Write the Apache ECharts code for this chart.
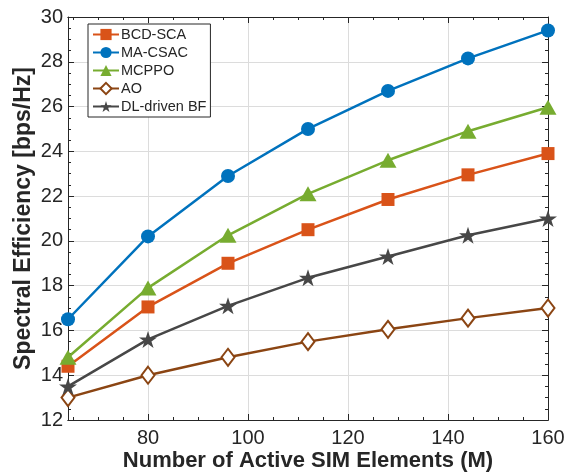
<!DOCTYPE html>
<html>
<head>
<meta charset="utf-8">
<script src="https://cdn.jsdelivr.net/npm/echarts@6/dist/echarts.min.js"></script>
<style>html,body{margin:0;padding:0;background:#fff;}#c{width:569px;height:473px;}</style>
</head>
<body>
<div id="c"></div>
<script>
var M = [64, 80, 96, 112, 128, 144, 160];
var bcdSca = [14.4, 17.05, 19.0, 20.5, 21.85, 22.95, 23.9];
var maCsac = [16.5, 20.2, 22.9, 25.0, 26.7, 28.15, 29.4];
var mcppo = [14.8, 17.9, 20.25, 22.1, 23.6, 24.9, 25.97];
var ao = [13.0, 14.0, 14.8, 15.5, 16.05, 16.55, 17.0];
var dlBf = [13.5, 15.6, 17.1, 18.35, 19.3, 20.25, 21.0];
var xMajor = [80, 100, 120, 140, 160];
var xMinor = [65, 70, 75, 85, 90, 95, 105, 110, 115, 125, 130, 135, 145, 150, 155];

var star = 'path://M50,0 L61.2,34.5 L97.6,34.5 L68.2,55.9 L79.4,90.5 L50,69.1 L20.6,90.5 L31.8,55.9 L2.4,34.5 L38.8,34.5 Z';
function pts(arr){ return M.map(function(m,i){ return [m, arr[i]]; }); }
var frame = '#262626';
var font = 'Liberation Sans, Arial, Helvetica, sans-serif';

function xAx(pos, major, labels, grid) {
  return {
    type: 'value', position: pos, min: 64, max: 160,
    axisLine: { show: true, onZero: false, lineStyle: { color: frame, width: 1 } },
    axisTick: { show: true, inside: true, length: major ? 6 : 3, customValues: major ? xMajor : xMinor, lineStyle: { color: frame } },
    axisLabel: { show: labels, customValues: xMajor, fontSize: 20, color: frame, fontFamily: font, margin: 8 },
    splitLine: { show: grid, lineStyle: { color: '#dcdcdc', width: 1 } },
    minorTick: { show: false }
  };
}

var chart = echarts.init(document.getElementById('c'));
var common = { type: 'line', lineStyle: { width: 2.5 }, showSymbol: true, z: 5 };
chart.setOption({
  animation: false,
  backgroundColor: '#fff',
  grid: { left: 68, right: 21, top: 17, bottom: 53, containLabel: false, outerBoundsMode: 'none' },
  legend: {
    orient: 'vertical', left: 88, top: 24,
    backgroundColor: '#fff', borderColor: frame, borderWidth: 1,
    padding: [3, 4, 3, 4], itemGap: 3, itemWidth: 26, itemHeight: 14,
    textStyle: { fontSize: 14.5, color: frame, fontFamily: font, padding: [0, 0, 0, -3] },
    data: ['BCD-SCA', 'MA-CSAC', 'MCPPO', 'AO', 'DL-driven BF']
  },
  xAxis: [
    Object.assign(xAx('bottom', true, true, true), {
      name: 'Number of Active SIM Elements (M)', nameLocation: 'middle', nameGap: 30, nameMoveOverlap: false,
      nameTextStyle: { fontSize: 22, fontWeight: 'bold', color: frame, fontFamily: font }
    }),
    xAx('bottom', false, false, false),
    xAx('top', true, false, false),
    xAx('top', false, false, false)
  ],
  yAxis: [
    {
      type: 'value', position: 'left', min: 12, max: 30, interval: 2,
      name: 'Spectral Efficiency [bps/Hz]', nameLocation: 'middle', nameGap: 33, nameMoveOverlap: false,
      nameTextStyle: { fontSize: 23, fontWeight: 'bold', color: frame, fontFamily: font },
      axisLine: { show: true, lineStyle: { color: frame } },
      axisTick: { show: true, inside: true, length: 6, lineStyle: { color: frame } },
      minorTick: { show: true, splitNumber: 4, length: 3, lineStyle: { color: frame } },
      axisLabel: { fontSize: 20, color: frame, fontFamily: font, margin: 5 },
      splitLine: { show: true, lineStyle: { color: '#dcdcdc', width: 1 } }
    },
    {
      type: 'value', position: 'right', min: 12, max: 30, interval: 2,
      axisLine: { show: true, lineStyle: { color: frame } },
      axisTick: { show: true, inside: true, length: 6, lineStyle: { color: frame } },
      minorTick: { show: true, splitNumber: 4, length: 3, lineStyle: { color: frame } },
      axisLabel: { show: false },
      splitLine: { show: false }
    }
  ],
  series: [
    Object.assign({}, common, { name: 'BCD-SCA', data: pts(bcdSca), color: '#D95319', symbol: 'rect', symbolSize: 13 }),
    Object.assign({}, common, { name: 'MA-CSAC', data: pts(maCsac), color: '#0072BD', symbol: 'circle', symbolSize: 14 }),
    Object.assign({}, common, { name: 'MCPPO', data: pts(mcppo), color: '#77AC30', symbol: 'triangle', symbolSize: [17, 15] }),
    Object.assign({}, common, { name: 'AO', data: pts(ao), color: '#8B4513', symbol: 'emptyDiamond', symbolSize: [13, 17], itemStyle: { borderWidth: 2.2 } }),
    Object.assign({}, common, { name: 'DL-driven BF', data: pts(dlBf), color: '#474747', symbol: star, symbolSize: [18, 17] })
  ]
});
</script>
</body>
</html>
